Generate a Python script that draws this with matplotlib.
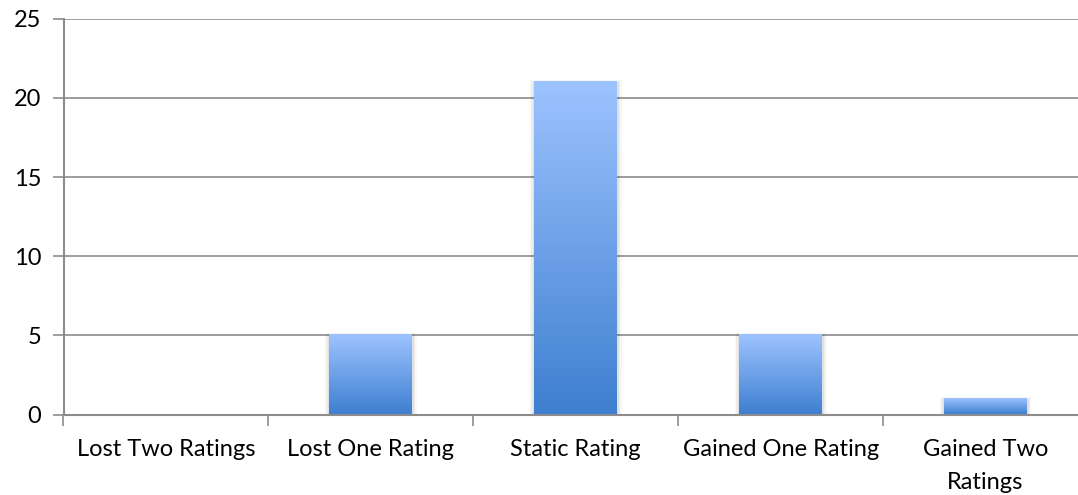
import numpy as np
import matplotlib
matplotlib.use('Agg')
import matplotlib.pyplot as plt
from matplotlib.colors import LinearSegmentedColormap

categories = ['Lost Two Ratings', 'Lost One Rating', 'Static Rating',
              'Gained One Rating', 'Gained Two\nRatings']
counts = [0, 5, 21, 5, 1]
yticks = [0, 5, 10, 15, 20, 25]

plt.rcParams['font.family'] = ['Lato', 'DejaVu Sans']

W, H = 1078, 495
fig = plt.figure(figsize=(W / 100, H / 100), dpi=100)
x0, x1 = 63.5, 1088
y0, y1 = 414.5, 18.7
ax = fig.add_axes([x0 / W, (H - y0) / H, (x1 - x0) / W, (y0 - y1) / H])

grid_col = '#8c8c8c'
ax.set_xlim(-0.5, len(categories) - 0.5)
ax.set_ylim(0, 25)
for v in yticks[1:]:
    ax.axhline(v, color=grid_col, lw=1.2, zorder=1)

x = np.arange(len(categories))
bars = ax.bar(x, counts, width=0.405, color='none', zorder=2)

cmap = LinearSegmentedColormap.from_list('bar', ['#3e7fd0', '#9dc3ff'])
grad = np.linspace(0, 1, 256).reshape(-1, 1)
for b in bars:
    h = b.get_height()
    if h <= 0:
        continue
    bx, bw = b.get_x(), b.get_width()
    # soft shadow
    for i, a in enumerate([0.05, 0.04, 0.03]):
        d = 0.012 * (i + 1)
        ax.add_patch(plt.Rectangle((bx - d * 0.6, -0.05), bw + 2 * d * 0.6, h + d * 5,
                                   color='black', alpha=a, lw=0, zorder=2))
    ax.imshow(grad, extent=[bx, bx + bw, 0, h], origin='lower', aspect='auto',
              cmap=cmap, zorder=3)

ax.set_xlim(-0.5, len(categories) - 0.5)
ax.set_ylim(0, 25)

for s in ['top', 'right']:
    ax.spines[s].set_visible(False)
for s in ['left', 'bottom']:
    ax.spines[s].set_color(grid_col)
    ax.spines[s].set_linewidth(1.5)
    ax.spines[s].set_zorder(4)

ax.set_yticks(yticks)
ax.set_yticklabels([str(v) for v in yticks], fontsize=17)
ax.tick_params(axis='y', length=8, width=1.2, color=grid_col, pad=8)

ax.set_xticks(np.arange(len(categories) + 1) - 0.5)
ax.set_xticklabels([])
ax.tick_params(axis='x', length=8, width=1.2, color=grid_col)
for i, c in enumerate(categories):
    ax.text(i, -1.55, c, ha='center', va='top', fontsize=17, linespacing=1.7)

fig.savefig('out.png', dpi=100)
